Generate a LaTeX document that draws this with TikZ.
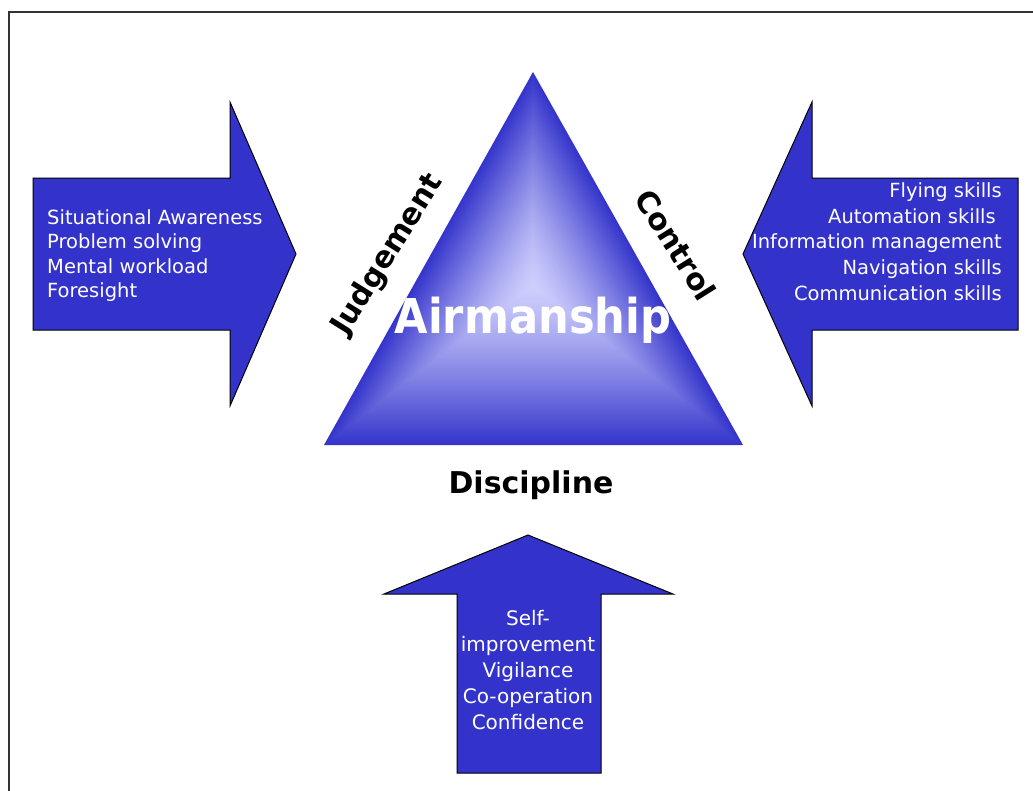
\documentclass[tikz,border=0pt]{standalone}
\usepackage{fontspec}
\setmainfont{DejaVu Sans}
\usetikzlibrary{calc}
\definecolor{arrowblue}{HTML}{3333CC}
\definecolor{tridark}{HTML}{3535CC}
\definecolor{trilight}{HTML}{CFCFFD}
\definecolor{framegray}{HTML}{333333}
\tikzset{
  bigarrow/.style={fill=arrowblue, draw=black, line width=1pt, line join=miter},
  framebox/.style={draw=framegray, line width=1.5pt},
  wtext/.style={text=white, inner sep=0pt, font=\fontsize{19.5}{24.5}\selectfont},
  btext/.style={text=black, inner sep=0pt, font=\bfseries\fontsize{30}{30}\selectfont}
}
\begin{document}
\begin{tikzpicture}[x=1pt,y=-1pt]
\useasboundingbox (0,0) rectangle (1033,790);
\clip (0,0) rectangle (1033,790);
\fill[white] (0,0) rectangle (1033,790);
\draw[framebox] (9,12) rectangle (1060,820);

% left arrow
\draw[bigarrow] (33,178) -- (230,178) -- (230,102) -- (296,254) -- (230,406) -- (230,330) -- (33,330) -- cycle;
% right arrow
\draw[bigarrow] (1018,178) -- (812,178) -- (812,102) -- (743,254) -- (812,406) -- (812,330) -- (1018,330) -- cycle;
% bottom arrow
\draw[bigarrow] (528,535) -- (673,594) -- (601,594) -- (601,773) -- (457,773) -- (457,594) -- (384,594) -- cycle;

% triangle with path gradient
\coordinate (TA) at (533,72);
\coordinate (TB) at (324,445);
\coordinate (TC) at (743,445);
\coordinate (TO) at (533,285);
\foreach \i in {60,59,...,1} {
  \pgfmathsetmacro\f{\i/60}
  \pgfmathsetmacro\lam{100*(1-\f^1.3)}
  \fill[trilight!\lam!tridark] ($(TO)!\f!(TA)$) -- ($(TO)!\f!(TB)$) -- ($(TO)!\f!(TC)$) -- cycle;
}

% texts
\node[wtext, anchor=west, align=left] (lefttext) at (47,255.5)
  {Situational Awareness\\Problem solving\\Mental workload\\Foresight};
\node[wtext, anchor=east, align=right, font=\fontsize{19.5}{25.75}\selectfont] (righttext) at (1002,241.6)
  {Flying skills\\Automation skills\rule{6pt}{0pt}\\Information management\\Navigation skills\\Communication skills};
\node[wtext, align=center, font=\fontsize{20}{26}\selectfont] (bottomtext) at (528,670)
  {Self-\\improvement\\Vigilance\\Co-operation\\Confidence};

\node[text=white, inner sep=0pt, font=\bfseries\fontsize{48}{48}\selectfont] (airm) at (533,320)
  {\scalebox{0.9}[1]{Airmanship}};
\node[btext, rotate=58] (judg) at (388,255) {Judgement};
\node[btext, rotate=-58] (ctrl) at (676,245) {Control};
\node[btext] (disc) at (531,485) {Discipline};
\end{tikzpicture}
\end{document}
